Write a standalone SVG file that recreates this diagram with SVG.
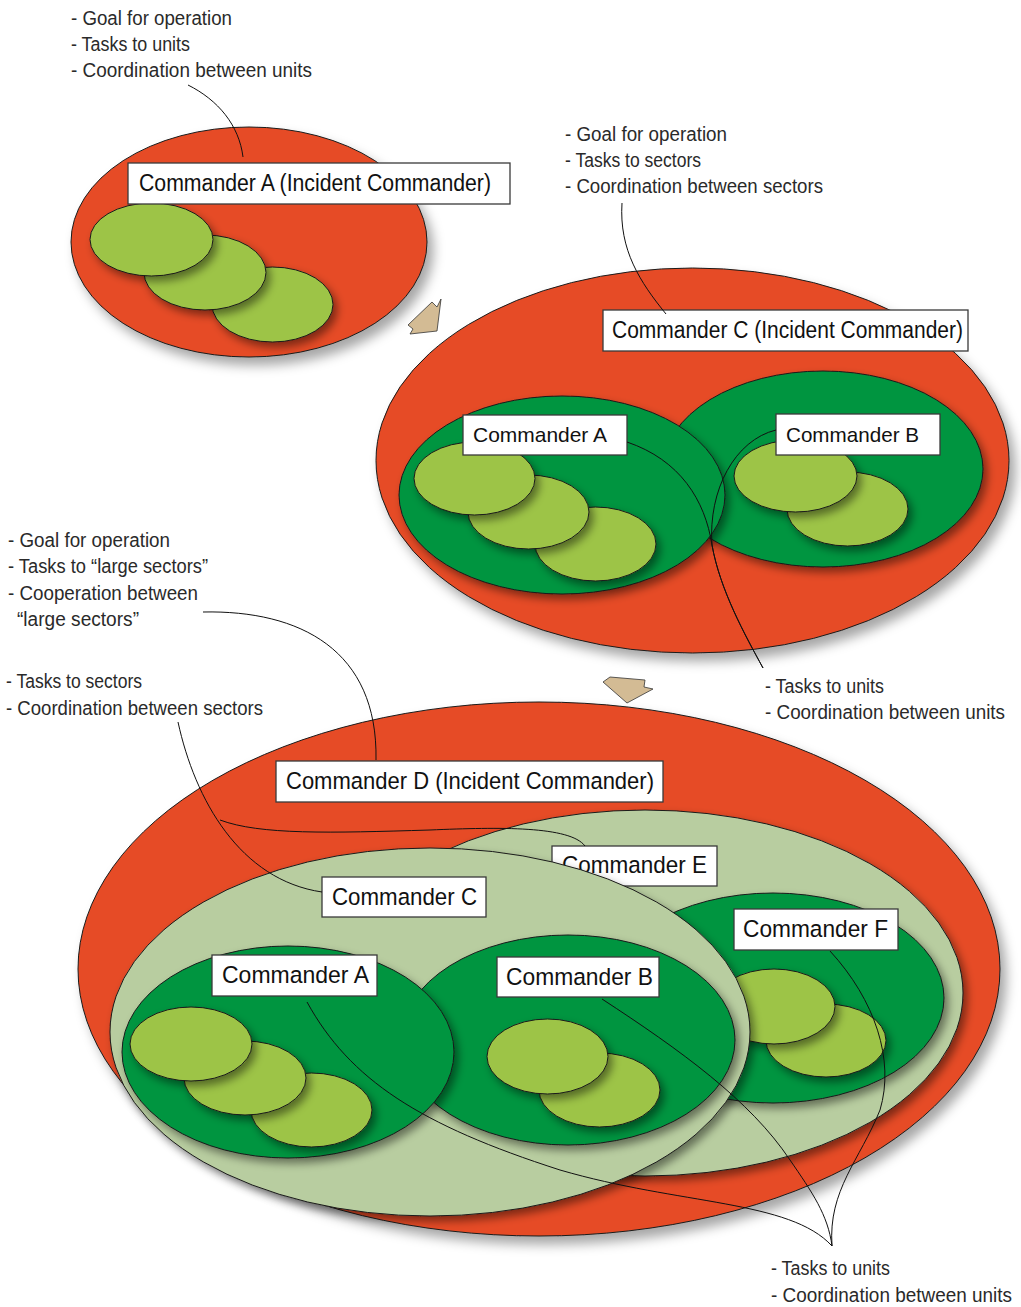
<svg xmlns="http://www.w3.org/2000/svg" width="1021" height="1307" viewBox="0 0 1021 1307">
<defs>
<style>
.ann{font-family:"Liberation Sans",Arial,sans-serif;font-size:19.5px;fill:#2a2a2a}
.lbl{font-family:"Liberation Sans",Arial,sans-serif;font-size:23px;fill:#111}
.lbs{font-family:"Liberation Sans",Arial,sans-serif;font-size:21px;fill:#111}
.lbb{font-family:"Liberation Sans",Arial,sans-serif;font-size:24.5px;fill:#111}
.box{fill:#fff;stroke:#3a3a3a;stroke-width:1.3}
.red{fill:#e64b25;stroke:#1a1a1a;stroke-width:1}
.dg{fill:#009540;stroke:#1a1a1a;stroke-width:1}
.lg{fill:#9dc447;stroke:#1a1a1a;stroke-width:1}
.pg{fill:#b8cda0;stroke:#1a1a1a;stroke-width:1}
.arr{fill:#d3bb94;stroke:#333;stroke-width:0.8}
.con{fill:none;stroke:#111;stroke-width:1}
</style>
<filter id="shBig" x="-20%" y="-20%" width="150%" height="150%">
<feDropShadow dx="6" dy="8" stdDeviation="6" flood-color="#000" flood-opacity="0.35"/>
</filter>
<filter id="sh" x="-20%" y="-20%" width="150%" height="160%">
<feDropShadow dx="4" dy="5" stdDeviation="4" flood-color="#000" flood-opacity="0.45"/>
</filter>
</defs>
<rect width="1021" height="1307" fill="#fff"/>

<!-- Top diagram -->
<g id="top-commanderA">
<ellipse class="red" cx="249" cy="242" rx="178" ry="115" filter="url(#shBig)"/>
<ellipse class="lg" cx="272.5" cy="304.5" rx="60.5" ry="37.5" filter="url(#sh)"/>
<ellipse class="lg" cx="205" cy="272.5" rx="61" ry="37.5" filter="url(#sh)"/>
<ellipse class="lg" cx="151.5" cy="239.5" rx="61.5" ry="36.5" filter="url(#sh)"/>
<rect class="box" x="128" y="163" width="382" height="41"/>
<text class="lbl" x="139" y="191" textLength="352" lengthAdjust="spacingAndGlyphs">Commander A (Incident Commander)</text>
</g>

<g id="arrow1"><polygon class="arr" points="408,325 432,302 437,307 441,299 437,331 410,334 413,329"/></g>

<!-- Middle diagram -->
<g id="mid-commanderC">
<ellipse class="red" cx="692.5" cy="460.5" rx="316.5" ry="192.5" filter="url(#shBig)"/>
</g>
<g id="mid-commanderB">
<ellipse class="dg" cx="823" cy="469" rx="160" ry="98" filter="url(#sh)"/>
<ellipse class="lg" cx="847.5" cy="509" rx="60.5" ry="37" filter="url(#sh)"/>
<ellipse class="lg" cx="795.5" cy="476" rx="61.5" ry="36" filter="url(#sh)"/>
</g>
<g id="mid-commanderA">
<ellipse class="dg" cx="562" cy="495" rx="163" ry="99" filter="url(#sh)"/>
<ellipse class="lg" cx="595.5" cy="544" rx="60.5" ry="37" filter="url(#sh)"/>
<ellipse class="lg" cx="528.5" cy="512" rx="60.5" ry="37" filter="url(#sh)"/>
<ellipse class="lg" cx="474.5" cy="478.5" rx="60.5" ry="36.5" filter="url(#sh)"/>
</g>
<g id="mid-labels">
<rect class="box" x="603" y="310" width="365" height="41"/>
<text class="lbl" x="612" y="338" textLength="351" lengthAdjust="spacingAndGlyphs">Commander C (Incident Commander)</text>
<rect class="box" x="463" y="415" width="164" height="40"/>
<text class="lbs" x="473" y="442" textLength="134" lengthAdjust="spacingAndGlyphs">Commander A</text>
<rect class="box" x="776" y="414" width="164" height="41"/>
<text class="lbs" x="786" y="442" textLength="133" lengthAdjust="spacingAndGlyphs">Commander B</text>
</g>

<g id="arrow2"><polygon class="arr" points="603,682 610,677 645,680 644,687 653,689 627,703"/></g>

<!-- Bottom diagram -->
<g id="bot-commanderD">
<ellipse class="red" cx="539" cy="969" rx="461" ry="267" filter="url(#shBig)"/>
</g>
<g id="bot-commanderE">
<ellipse class="pg" cx="645" cy="993" rx="318" ry="183" filter="url(#sh)"/>
<rect class="box" x="552" y="846" width="165" height="40"/>
<text class="lbb" x="562" y="873" textLength="145" lengthAdjust="spacingAndGlyphs">Commander E</text>
</g>
<g id="bot-commanderF">
<ellipse class="dg" cx="773" cy="998" rx="171" ry="105" filter="url(#sh)"/>
<ellipse class="lg" cx="826" cy="1040.5" rx="60" ry="36.5" filter="url(#sh)"/>
<ellipse class="lg" cx="774" cy="1006.5" rx="61" ry="37.5" filter="url(#sh)"/>
<rect class="box" x="734" y="909" width="164" height="41"/>
<text class="lbb" x="743" y="937" textLength="145" lengthAdjust="spacingAndGlyphs">Commander F</text>
</g>
<g id="bot-commanderC">
<ellipse class="pg" cx="430" cy="1032" rx="320" ry="184" filter="url(#sh)"/>
</g>
<g id="bot-commanderB">
<ellipse class="dg" cx="568" cy="1040" rx="167" ry="105" filter="url(#sh)"/>
<ellipse class="lg" cx="599.5" cy="1090" rx="60.5" ry="37" filter="url(#sh)"/>
<ellipse class="lg" cx="547.5" cy="1056.5" rx="60.5" ry="37.5" filter="url(#sh)"/>
</g>
<g id="bot-commanderA">
<ellipse class="dg" cx="288" cy="1052" rx="166" ry="106" filter="url(#sh)"/>
<ellipse class="lg" cx="311.5" cy="1110" rx="60.5" ry="37" filter="url(#sh)"/>
<ellipse class="lg" cx="245" cy="1078" rx="61" ry="37" filter="url(#sh)"/>
<ellipse class="lg" cx="191" cy="1044" rx="61" ry="37" filter="url(#sh)"/>
</g>
<g id="bot-labels">
<rect class="box" x="276" y="761" width="387" height="41"/>
<text class="lbb" x="286" y="789" textLength="368" lengthAdjust="spacingAndGlyphs">Commander D (Incident Commander)</text>
<rect class="box" x="322" y="877" width="164" height="40"/>
<text class="lbb" x="332" y="905" textLength="145" lengthAdjust="spacingAndGlyphs">Commander C</text>
<rect class="box" x="212" y="955" width="165" height="41"/>
<text class="lbb" x="222" y="983" textLength="147" lengthAdjust="spacingAndGlyphs">Commander A</text>
<rect class="box" x="497" y="957" width="162" height="40"/>
<text class="lbb" x="506" y="985" textLength="147" lengthAdjust="spacingAndGlyphs">Commander B</text>
</g>

<!-- Connectors -->
<g id="connectors">
<path class="con" d="M188,85 C218,100 239,125 243,157"/>
<path class="con" d="M622,203 C619,250 640,282 666,314"/>
<path class="con" d="M627,442 C680,460 705,500 712,545 C720,590 745,635 763,668"/>
<path class="con" d="M776,430 C735,440 708,490 712,545 C720,590 745,635 763,668"/>
<path class="con" d="M203,612 C300,610 378,650 376,760"/>
<path class="con" d="M178,722 C195,800 240,880 322,892"/>
<path class="con" d="M220,820 C260,835 330,833 430,830 C500,827 570,826 585,846"/>
<path class="con" d="M307,1002 C350,1080 420,1125 560,1170 C680,1205 790,1200 832,1246"/>
<path class="con" d="M602,999 C680,1050 750,1100 790,1160 C812,1192 828,1215 832,1246"/>
<path class="con" d="M830,951 C875,1000 895,1060 880,1110 C860,1160 828,1190 832,1246"/>
</g>

<!-- Annotations -->
<g id="annotations">
<text class="ann" x="71" y="25" textLength="161" lengthAdjust="spacingAndGlyphs">- Goal for operation</text>
<text class="ann" x="71" y="51" textLength="119" lengthAdjust="spacingAndGlyphs">- Tasks to units</text>
<text class="ann" x="71" y="77" textLength="241" lengthAdjust="spacingAndGlyphs">- Coordination between units</text>

<text class="ann" x="565" y="141" textLength="162" lengthAdjust="spacingAndGlyphs">- Goal for operation</text>
<text class="ann" x="565" y="167" textLength="136" lengthAdjust="spacingAndGlyphs">- Tasks to sectors</text>
<text class="ann" x="565" y="193" textLength="258" lengthAdjust="spacingAndGlyphs">- Coordination between sectors</text>

<text class="ann" x="8" y="547" textLength="162" lengthAdjust="spacingAndGlyphs">- Goal for operation</text>
<text class="ann" x="8" y="573" textLength="200" lengthAdjust="spacingAndGlyphs">- Tasks to “large sectors”</text>
<text class="ann" x="8" y="600" textLength="190" lengthAdjust="spacingAndGlyphs">- Cooperation between</text>
<text class="ann" x="17" y="626" textLength="122" lengthAdjust="spacingAndGlyphs">“large sectors”</text>
<text class="ann" x="6" y="688" textLength="136" lengthAdjust="spacingAndGlyphs">- Tasks to sectors</text>
<text class="ann" x="6" y="715" textLength="257" lengthAdjust="spacingAndGlyphs">- Coordination between sectors</text>

<text class="ann" x="765" y="693" textLength="119" lengthAdjust="spacingAndGlyphs">- Tasks to units</text>
<text class="ann" x="765" y="719" textLength="240" lengthAdjust="spacingAndGlyphs">- Coordination between units</text>

<text class="ann" x="771" y="1275" textLength="119" lengthAdjust="spacingAndGlyphs">- Tasks to units</text>
<text class="ann" x="771" y="1302" textLength="241" lengthAdjust="spacingAndGlyphs">- Coordination between units</text>
</g>
</svg>
